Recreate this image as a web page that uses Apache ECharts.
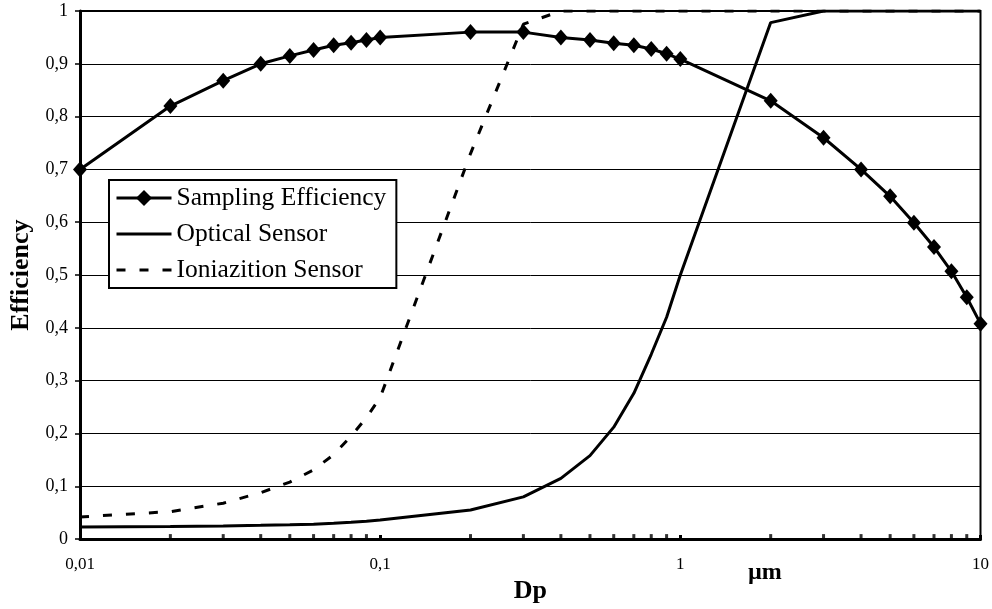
<!DOCTYPE html>
<html>
<head>
<meta charset="utf-8">
<script src="https://cdn.jsdelivr.net/npm/echarts@6/dist/echarts.min.js"></script>
<style>html,body{margin:0;padding:0;background:#fff}#c{width:992px;height:609px}</style>
</head>
<body>
<div id="c"></div>
<script>
const xValues = [0.01,0.02,0.03,0.04,0.05,0.06,0.07,0.08,0.09,0.1,0.2,0.3,0.4,0.5,0.6,0.7,0.8,0.9,1,2,3,4,5,6,7,8,9,10];
const samplingEff = [0.70,0.82,0.868,0.90,0.915,0.926,0.935,0.94,0.945,0.95,0.96,0.96,0.95,0.945,0.939,0.935,0.928,0.919,0.909,0.83,0.76,0.70,0.649,0.599,0.553,0.507,0.458,0.408];
const opticalSensor = [0.023,0.024,0.025,0.026,0.027,0.028,0.030,0.032,0.034,0.036,0.055,0.080,0.115,0.158,0.212,0.276,0.350,0.420,0.500,0.978,1,1,1,1,1,1,1,1];
const ionSensor = [0.042,0.052,0.068,0.088,0.108,0.131,0.160,0.195,0.230,0.268,0.730,0.975,1,1,1,1,1,1,1,1,1,1,1,1,1,1,1,1];
const minorTickX = [0.02,0.03,0.04,0.05,0.06,0.07,0.08,0.09,0.2,0.3,0.4,0.5,0.6,0.7,0.8,0.9,2,3,4,5,6,7,8,9];
const seriesNames = ['Sampling Efficiency','Optical Sensor','Ioniazition Sensor'];
const xTitle = 'Dp', unitText = 'µm', yTitle = 'Efficiency';

const FONT = 'Liberation Serif';
const pair = arr => xValues.map((x, i) => [x, arr[i]]);
const comma = v => String(+v.toFixed(2)).replace('.', ',');

const chart = echarts.init(document.getElementById('c'));
chart.setOption({
  backgroundColor: '#fff',
  animation: false,
  grid: { left: 80, right: 11, top: 11, bottom: 62, show: true, borderColor: '#000', borderWidth: 2, backgroundColor: 'transparent' },
  xAxis: {
    type: 'log', logBase: 10, min: 0.01, max: 10,
    name: xTitle, nameLocation: 'middle', nameGap: 33,
    nameTextStyle: { fontFamily: FONT, fontSize: 26, fontWeight: 'bold', color: '#000' },
    axisLine: { show: true, lineStyle: { color: '#000', width: 3 } },
    axisTick: { show: true, inside: true, length: 4, lineStyle: { color: '#000', width: 3 } },
    axisLabel: { formatter: comma, fontFamily: FONT, fontSize: 17, color: '#000', margin: 17 },
    splitLine: { show: false },
    minorTick: { show: false }
  },
  yAxis: {
    type: 'value', min: 0, max: 1, interval: 0.1,
    name: yTitle, nameLocation: 'middle', nameGap: 46,
    nameTextStyle: { fontFamily: FONT, fontSize: 26, fontWeight: 'bold', color: '#000' },
    axisLine: { show: true, lineStyle: { color: '#000', width: 3 } },
    axisTick: { show: true, length: 5, lineStyle: { color: '#000', width: 1.5 } },
    axisLabel: { formatter: comma, fontFamily: FONT, fontSize: 18, color: '#000', margin: 12 },
    splitLine: { show: true, lineStyle: { color: '#000', width: 1 } }
  },
  legend: {
    data: [
      { name: seriesNames[0] },
      { name: seriesNames[1], itemStyle: { opacity: 0 } },
      { name: seriesNames[2], itemStyle: { opacity: 0 } }
    ],
    orient: 'vertical', left: 109, top: 180,
    padding: [4, 10, 4, 6],
    itemGap: 8, itemWidth: 55, itemHeight: 20,
    borderColor: '#000', borderWidth: 2, backgroundColor: '#fff',
    lineStyle: { width: 3 },
    textStyle: { fontFamily: FONT, fontSize: 25.5, color: '#000', lineHeight: 28 }
  },
  graphic: [{
    type: 'text', left: 748, top: 561,
    style: { text: unitText, fontFamily: FONT, fontSize: 24, fontWeight: 'bold', fill: '#000' }
  }],
  series: [
    {
      name: seriesNames[2], type: 'line', data: pair(ionSensor), symbol: 'none', z: 3,
      lineStyle: { color: '#000', width: 3, type: [9, 14] }, itemStyle: { color: '#000' }
    },
    {
      name: seriesNames[1], type: 'line', data: pair(opticalSensor), symbol: 'none', z: 4,
      lineStyle: { color: '#000', width: 3 }, itemStyle: { color: '#000' }
    },
    {
      name: seriesNames[0], type: 'line', data: pair(samplingEff), symbol: 'diamond', symbolSize: [14, 16], z: 5,
      lineStyle: { color: '#000', width: 3 }, itemStyle: { color: '#000' }
    },
    {
      name: 'ticks', type: 'scatter', data: minorTickX.map(x => [x, 0]), symbol: 'rect', symbolSize: [3, 4],
      symbolOffset: [0, -3], clip: false, silent: true, z: 6, itemStyle: { color: '#000' }
    }
  ]
});
</script>
</body>
</html>
